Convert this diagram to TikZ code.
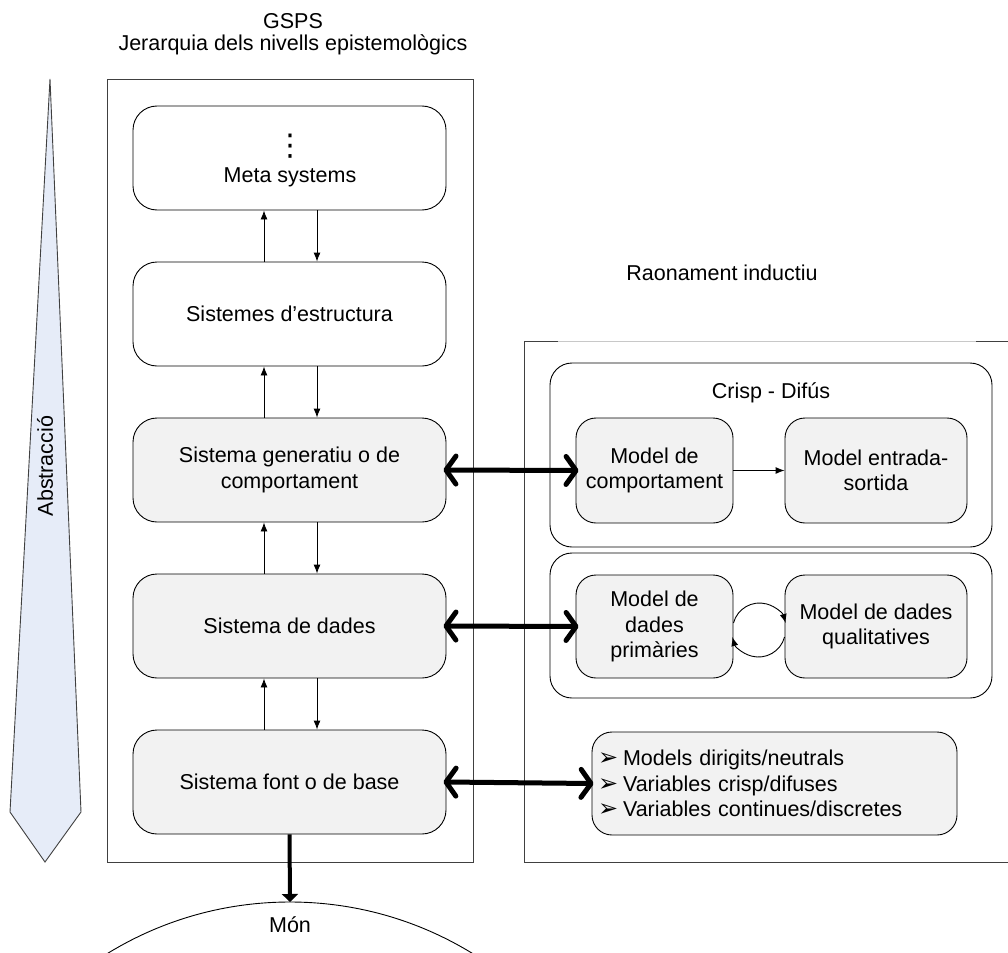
\documentclass[tikz,border=0pt]{standalone}
\usepackage{fontspec}
\setmainfont{Liberation Sans}
\newfontfamily\dejavu{DejaVu Sans}
\usetikzlibrary{arrows.meta,calc}
\definecolor{boxgray}{HTML}{F2F2F2}
\definecolor{tieblue}{HTML}{E6ECF8}
\definecolor{edgegray}{HTML}{404040}
\definecolor{lightline}{HTML}{C8C8C8}
\newcommand{\mybullet}{\makebox[25pt][l]{\dejavu\fontsize{24}{20}\selectfont ➢}}
\begin{document}
\begin{tikzpicture}[x=1pt,y=-1pt,
  font=\fontsize{21.5}{25.5}\selectfont,
  bigbox/.style={draw, rounded corners=24pt, minimum width=313pt, minimum height=104pt, align=center, line width=0.9pt, inner sep=0pt},
  graybox/.style={bigbox, fill=boxgray},
  mbox/.style={draw, fill=boxgray, rounded corners=20pt, align=center, line width=0.9pt, inner sep=0pt},
  groupbox/.style={draw, rounded corners=22pt, line width=0.9pt, inner sep=0pt},
  tarrow/.style={-{Latex[length=9pt,width=7pt]}, line width=0.9pt},
  barrow/.style={{Straight Barb[length=10pt,width=28pt,round]}-{Straight Barb[length=10pt,width=28pt,round]}, line width=5pt, line cap=round},
  downarrow/.style={-{Triangle[length=8pt,width=16pt]}, line width=4pt},
  plain/.style={inner sep=0pt}
]
\useasboundingbox (0,0) rectangle (1008,952);
\clip (0,0) rectangle (1008,952);

% tie (abstraction arrow)
\draw[edgegray, fill=tieblue, line width=0.9pt, line join=miter] (50,79) -- (81,812) -- (45,862) -- (10,812) -- cycle;
\node[plain, rotate=90] (abs) at (45,466) {Abstracció};

% titles
\node[plain] (gsps) at (293,21) {GSPS};
\node[plain] (jer) at (293,45) {Jerarquia dels nivells epistemològics};
\node[plain] (rao) at (722,273) {Raonament inductiu};

% left frame
\draw[edgegray, line width=1pt] (107,80) rectangle (473,862);

% right frame
\draw[edgegray, line width=1pt] (524,341) -- (524,862) -- (1010,862);
\draw[edgegray, line width=1pt] (524,341) -- (558,341);
\draw[lightline, line width=1pt] (558,341) -- (976,341);
\draw[edgegray, line width=1pt] (976,341) -- (1010,341);

% hierarchy boxes
\node[bigbox] (meta) at (289.5,158) {};
\node[plain, font=\dejavu\fontsize{30}{30}\selectfont] (dots) at (290,146) {⋮};
\node[plain] (metalbl) at (290,177) {Meta systems};
\node[bigbox] (est) at (289.5,314) {Sistemes d’estructura};
\node[graybox] (gen) at (289.5,470) {Sistema generatiu o de\\comportament};
\node[graybox] (dad) at (289.5,626) {Sistema de dades};
\node[graybox] (fon) at (289.5,782) {Sistema font o de base};

% vertical arrows
\foreach \lo/\hi in {est/meta, gen/est, dad/gen, fon/dad}{
  \draw[tarrow] ([xshift=-25.5pt]\lo.north) -- ([xshift=-25.5pt]\hi.south);
  \draw[tarrow] ([xshift=27.5pt]\hi.south) -- ([xshift=27.5pt]\lo.north);
}

% world
\node[plain] (mon) at (290,925) {Món};
\coordinate (montop) at (290,902);
\draw[line width=0.9pt] (290,1251) circle[radius=349pt];
\draw[downarrow] (fon.south) -- (montop);

% right groups
\node[groupbox, minimum width=442pt, minimum height=184pt] (crisp) at (771,455) {};
\node[plain] (crisplbl) at (771,393) {Crisp - Difús};
\node[mbox, minimum width=157pt, minimum height=105pt] (comp) at (654.5,470.5) {Model de\\comportament};
\node[mbox, minimum width=182pt, minimum height=105pt] (entr) at (876,470.5) {Model entrada-\\sortida};
\draw[tarrow] (comp.east) -- (entr.west);

\node[groupbox, minimum width=442pt, minimum height=145pt] (grp2) at (771,625.5) {};
\node[mbox, minimum width=157pt, minimum height=103pt] (prim) at (654.5,626.5) {Model de\\dades\\primàries};
\node[mbox, minimum width=182pt, minimum height=103pt] (qual) at (876,626.5) {Model de dades\\qualitatives};
\draw[tarrow] ($(prim.east)+(0,-3.5)$) arc[start angle=165, end angle=15, radius=27pt];
\draw[tarrow] ($(qual.west)+(0,10.5)$) arc[start angle=-15, end angle=-165, radius=27pt];

\node[mbox, minimum width=365pt, minimum height=103pt, text width=353pt, inner xsep=6pt, align=left] (lst) at (774.5,783.5)
  {\mybullet Models dirigits/neutrals\\
   \mybullet Variables crisp/difuses\\
   \mybullet Variables continues/discretes};

% thick double arrows
\draw[barrow, shorten <=-3pt, shorten >=-3pt] (gen.east) -- (comp.west);
\draw[barrow, shorten <=-3pt, shorten >=-3pt] (dad.east) -- (prim.west);
\draw[barrow, shorten <=-3pt, shorten >=-2pt] (fon.east) -- (lst.west);
\end{tikzpicture}
\end{document}
